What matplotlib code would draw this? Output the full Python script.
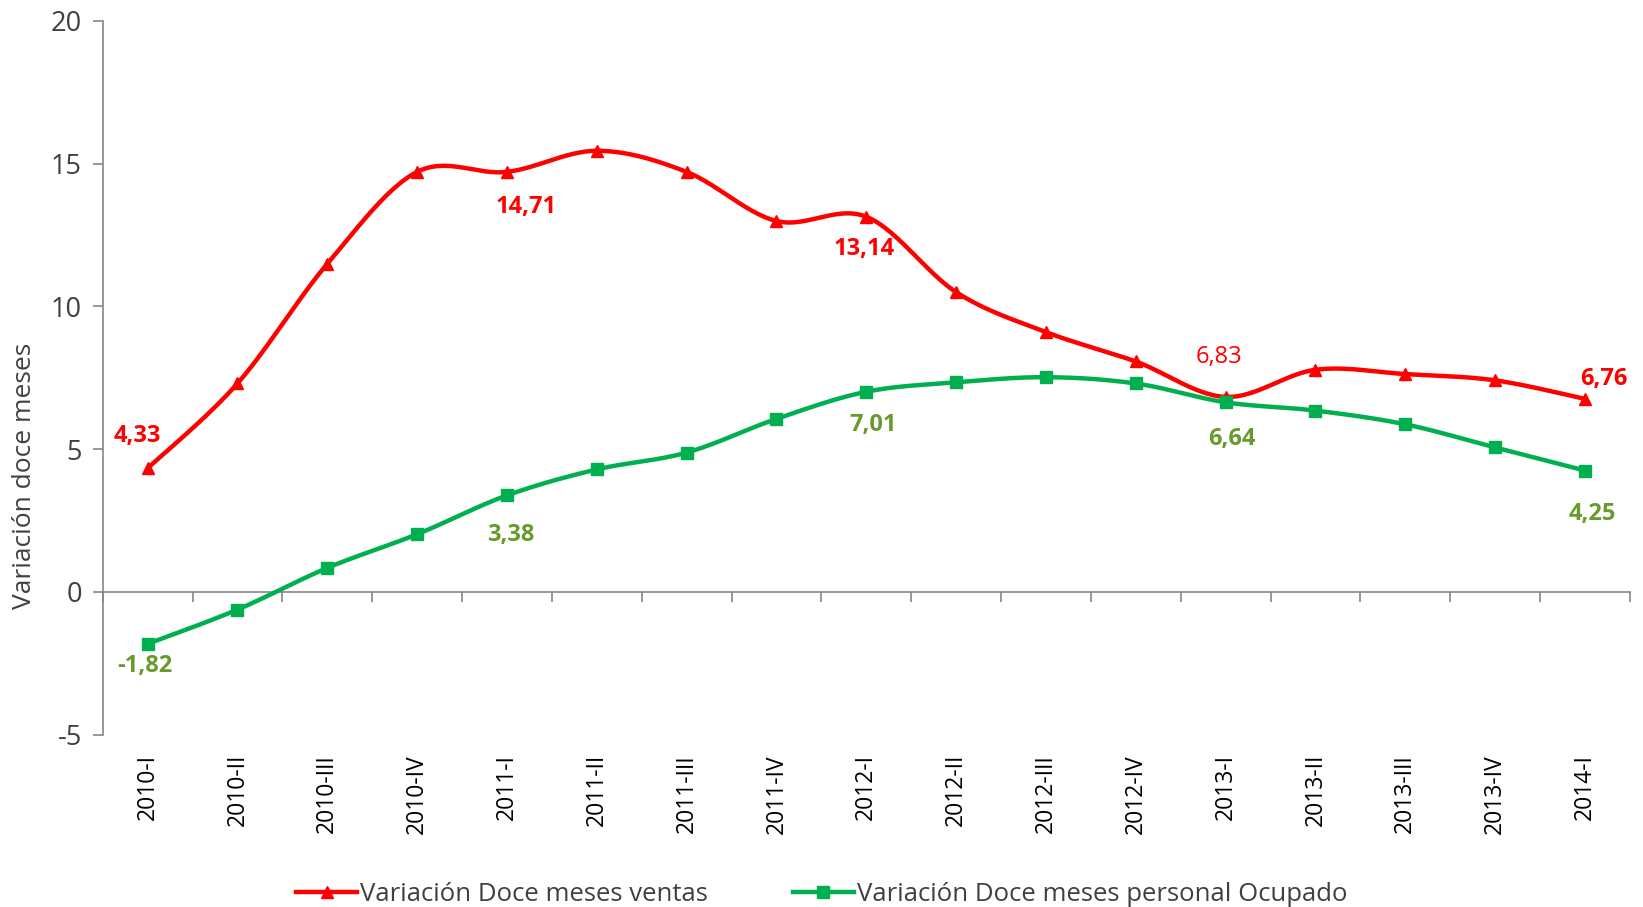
import numpy as np
import matplotlib
matplotlib.use("Agg")
import matplotlib.pyplot as plt

categories = ["2010-I", "2010-II", "2010-III", "2010-IV", "2011-I", "2011-II", "2011-III",
              "2011-IV", "2012-I", "2012-II", "2012-III", "2012-IV", "2013-I", "2013-II",
              "2013-III", "2013-IV", "2014-I"]
ventas = [4.33, 7.30, 11.49, 14.71, 14.71, 15.45, 14.71, 12.99, 13.14, 10.50, 9.10, 8.07,
          6.83, 7.78, 7.63, 7.41, 6.76]
personal = [-1.82, -0.62, 0.84, 2.02, 3.38, 4.29, 4.88, 6.06, 7.01, 7.34, 7.52, 7.30,
            6.64, 6.35, 5.87, 5.06, 4.25]
series_names = ["Variación Doce meses ventas", "Variación Doce meses personal Ocupado"]
y_label = "Variación doce meses"

# category indices that carry a data label
labelled_ventas = [0, 4, 8, 12, 16]
labelled_personal = [0, 4, 8, 12, 16]

plt.rcParams['font.family'] = ['Open Sans', 'DejaVu Sans']
plt.rcParams['axes.unicode_minus'] = False

RED = "#FF0000"
GREEN = "#00B050"
GREEN_TXT = "#689A2C"
AXIS = "#868686"
TXT = "#404040"


def smooth(x, y, n=30):
    """Excel-like smoothed line (Catmull-Rom Bezier) through the data points."""
    x = np.asarray(x, float)
    y = np.asarray(y, float)
    P = np.column_stack([x, y])
    Pe = np.vstack([P[0], P, P[-1]])
    out = []
    t = np.linspace(0, 1, n)[:, None]
    for i in range(len(P) - 1):
        p0, p1, p2, p3 = Pe[i], Pe[i + 1], Pe[i + 2], Pe[i + 3]
        c1 = p1 + (p2 - p0) / 6.0
        c2 = p2 - (p3 - p1) / 6.0
        seg = ((1 - t) ** 3) * p1 + 3 * ((1 - t) ** 2) * t * c1 + 3 * (1 - t) * t ** 2 * c2 + t ** 3 * p2
        out.append(seg if i == 0 else seg[1:])
    s = np.vstack(out)
    return s[:, 0], s[:, 1]


fig = plt.figure(figsize=(16.43, 9.07), dpi=100)
ax = fig.add_axes([0.0625, 0.19, 0.9295, 0.787])

xs = np.arange(len(categories))

for vals, col, mk, ms, name in [(ventas, RED, "^", 9, series_names[0]),
                                (personal, GREEN, "s", 8, series_names[1])]:
    sx, sy = smooth(xs, vals)
    ax.plot(sx, sy, color=col, lw=3.2, solid_capstyle="round", zorder=3)
    ax.plot(xs, vals, linestyle="none", marker=mk, ms=ms, color=col, zorder=4)
    ax.plot([], [], color=col, lw=3.2, marker=mk, ms=ms, label=name)


def fmt(v):
    return f"{v:.2f}".replace(".", ",")


ventas_offsets = {0: (-10, 32, "bold"), 4: (19, -35, "bold"), 8: (-2, -32, "bold"),
                  12: (-7, 40, "normal"), 16: (19, 20, "bold")}
personal_offsets = {0: (-3, -22), 4: (4, -40), 8: (7, -33), 12: (6, -37), 16: (7, -43)}

for i in labelled_ventas:
    dx, dy, w = ventas_offsets[i]
    ax.annotate(fmt(ventas[i]), (xs[i], ventas[i]), xytext=(dx, dy), textcoords="offset pixels",
                ha="center", va="center", color=RED, fontsize=17, fontweight=w, zorder=5)
for i in labelled_personal:
    dx, dy = personal_offsets[i]
    ax.annotate(fmt(personal[i]), (xs[i], personal[i]), xytext=(dx, dy), textcoords="offset pixels",
                ha="center", va="center", color=GREEN_TXT, fontsize=17, fontweight="bold", zorder=5)

ax.set_xlim(-0.5, len(categories) - 0.5)
ax.set_ylim(-5, 20)
ax.set_yticks([-5, 0, 5, 10, 15, 20])
ax.tick_params(axis="y", labelsize=19.5, colors=AXIS, labelcolor=TXT, length=7, width=1.2, pad=8)

for s in ["top", "right", "bottom"]:
    ax.spines[s].set_visible(False)
ax.spines["left"].set_color(AXIS)
ax.spines["left"].set_linewidth(1.2)

ax.set_xticks(xs)
ax.set_xticklabels(categories, rotation=90, fontsize=16.5, color="black")
ax.tick_params(axis="x", length=0, pad=14)

# zero line with category boundary ticks
sec = ax.secondary_xaxis(0.2)
sec.set_xticks(np.arange(len(categories) + 1) - 0.5)
sec.set_xticklabels([])
sec.tick_params(axis="x", length=7, width=1.2, colors=AXIS, direction="out")
sec.spines["bottom"].set_color(AXIS)
sec.spines["bottom"].set_linewidth(1.2)

ax.set_ylabel(y_label, fontsize=19, color=TXT)
ax.yaxis.set_label_coords(-0.043, 0.363)

fig.legend(loc="center", bbox_to_anchor=(0.5, 0.0143), ncol=2, frameon=False,
           fontsize=18.5, handlelength=2.4, handletextpad=0.1, columnspacing=3.3,
           labelcolor=TXT)

fig.savefig("out.png", dpi=100, facecolor="white")
